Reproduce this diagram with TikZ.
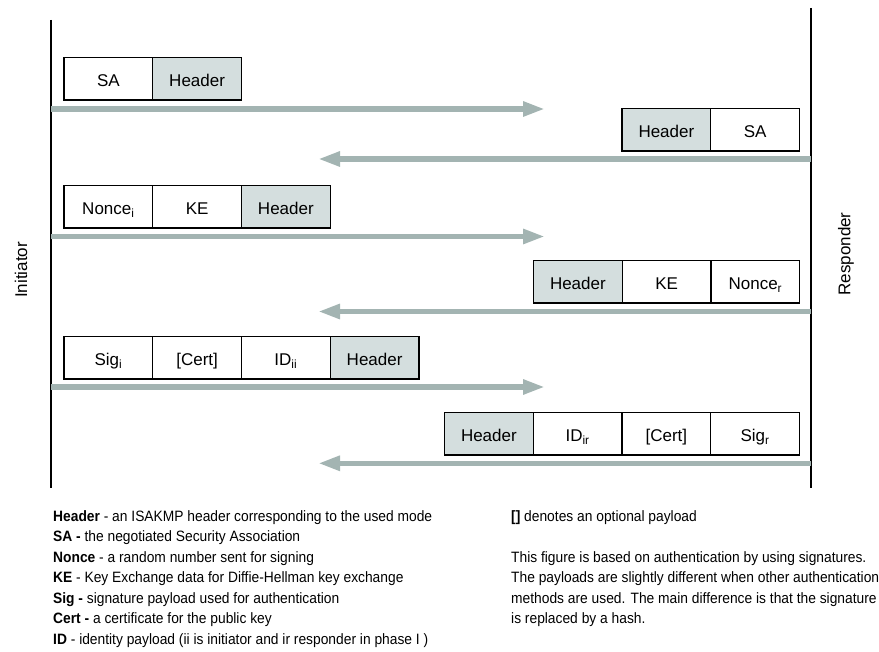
\documentclass[tikz,border=0pt]{standalone}
\usepackage{fontspec}
\setmainfont{Liberation Sans}
\newfontfamily\legendfont[FakeStretch=0.92]{Liberation Sans}
\usetikzlibrary{arrows.meta}
\definecolor{arrowc}{RGB}{163,180,178}
\definecolor{hdrc}{RGB}{212,222,222}
\begin{document}
\begin{tikzpicture}[x=1pt,y=-1pt,
  box/.style={draw=black, line width=1.3pt, minimum width=88.75pt, minimum height=42.5pt, inner sep=0pt, outer sep=0pt, text height=18pt, text depth=2pt, font=\fontsize{17}{19}\selectfont, anchor=north west},
  hbox/.style={box, fill=hdrc},
  msg/.style={draw=arrowc, line width=5.5pt, -{Triangle[length=22pt,width=14pt]}},
  life/.style={draw=black, line width=1.3pt},
  role/.style={font=\fontsize{17}{20}\selectfont, rotate=90, inner sep=0pt},
  legend/.style={font=\legendfont\fontsize{15}{17}\selectfont, anchor=base west, inner sep=0pt}]
\useasboundingbox (0,0) rectangle (879,652);
% lifelines
\coordinate (iTop) at (51,20);
\coordinate (iBot) at (51,488);
\coordinate (rTop) at (811,8);
\coordinate (rBot) at (811,488);
\draw[life] (iTop) -- (iBot);
\draw[life] (rTop) -- (rBot);
\node[role] (init) at (21,270) {Initiator};
\node[role] (resp) at (846,254) {Responder};
% message 1
\node[box] (m1a) at (64,57.5) {SA};
\node[hbox] (m1b) at (m1a.north east) {Header};
\coordinate (s1) at (51,109);
\coordinate (e1) at (545,109);
\draw[msg] (s1) -- (e1);
% message 2
\node[hbox] (m2a) at (622,108.5) {Header};
\node[box] (m2b) at (m2a.north east) {SA};
\coordinate (s2) at (811,159);
\coordinate (e2) at (318,159);
\draw[msg] (s2) -- (e2);
% message 3
\node[box] (m3a) at (64,185.5) {Nonce\textsubscript{i}};
\node[box] (m3b) at (m3a.north east) {KE};
\node[hbox] (m3c) at (m3b.north east) {Header};
\coordinate (s3) at (51,236.5);
\coordinate (e3) at (545,236.5);
\draw[msg] (s3) -- (e3);
% message 4
\node[hbox] (m4a) at (533.5,260.5) {Header};
\node[box] (m4b) at (m4a.north east) {KE};
\node[box] (m4c) at (m4b.north east) {Nonce\textsubscript{r}};
\coordinate (s4) at (811,311.5);
\coordinate (e4) at (318,311.5);
\draw[msg] (s4) -- (e4);
% message 5
\node[box] (m5a) at (64,336.5) {Sig\textsubscript{i}};
\node[box] (m5b) at (m5a.north east) {[Cert]};
\node[box] (m5c) at (m5b.north east) {ID\textsubscript{ii}};
\node[hbox] (m5d) at (m5c.north east) {Header};
\coordinate (s5) at (51,387);
\coordinate (e5) at (545,387);
\draw[msg] (s5) -- (e5);
% message 6
\node[hbox] (m6a) at (444.5,412.5) {Header};
\node[box] (m6b) at (m6a.north east) {ID\textsubscript{ir}};
\node[box] (m6c) at (m6b.north east) {[Cert]};
\node[box] (m6d) at (m6c.north east) {Sig\textsubscript{r}};
\coordinate (s6) at (811,463.3);
\coordinate (e6) at (318,463.3);
\draw[msg] (s6) -- (e6);
% legend
\node[legend] (l1) at (53,521) {\textbf{Header} - an ISAKMP header corresponding to the used mode};
\node[legend] (l2) at (53,541.5) {\textbf{SA -} the negotiated Security Association};
\node[legend] (l3) at (53,562) {\textbf{Nonce} - a random number sent for signing};
\node[legend] (l4) at (53,582.5) {\textbf{KE} - Key Exchange data for Diffie-Hellman key exchange};
\node[legend] (l5) at (53,603) {\textbf{Sig -} signature payload used for authentication};
\node[legend] (l6) at (53,623.5) {\textbf{Cert -} a certificate for the public key};
\node[legend] (l7) at (53,644) {\textbf{ID} - identity payload (ii is initiator and ir responder in phase I )};
\node[legend] (r1) at (511,521) {\textbf{[]} denotes an optional payload};
\node[legend] (r2) at (511,562) {This figure is based on authentication by using signatures.};
\node[legend] (r3) at (511,582.5) {The payloads are slightly different when other authentication};
\node[legend] (r4) at (511,603) {methods are used. The main difference is that the signature};
\node[legend] (r5) at (511,623.5) {is replaced by a hash.};
\end{tikzpicture}
\end{document}
